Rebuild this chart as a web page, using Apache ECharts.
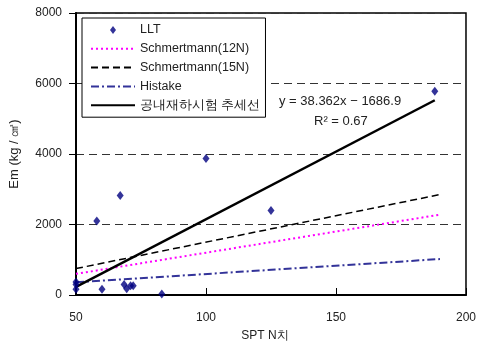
<!DOCTYPE html>
<html><head><meta charset="utf-8">
<script src="https://cdn.jsdelivr.net/npm/echarts@6/dist/echarts.min.js"></script>
<style>html,body{margin:0;padding:0;background:#fff}#c{width:479px;height:347px}</style>
</head><body><div id="c"></div>
<script>
// LLT measurements
var lltN  = [50, 50, 50, 58, 60, 67, 68.5, 69.5, 71, 72, 83, 100, 125, 188];
var lltEm = [370, 300, 160, 2100, 160, 2820, 300, 180, 260, 260, 30, 3870, 2400, 5780];
// reference lines (endpoints)
var schm12N  = [50, 190];
var schm12Em = [600, 2280];
var schm15N  = [50, 190];
var schm15Em = [750, 2850];
var histN    = [50, 190];
var histEm   = [360, 1020];
var trendN   = [50, 188];
var trendEm  = [231, 5525];
var xTicks = [50, 100, 150, 200];
var yTicks = [0, 2000, 4000, 6000, 8000];
var names = ['LLT', 'Schmertmann(12N)', 'Schmertmann(15N)', 'Histake', '공내재하시험 추세선'];

function pairs(a, b) { return a.map(function (v, i) { return [v, b[i]]; }); }
var font = 'Liberation Sans, Arial, sans-serif';
var hide = { color: 'transparent', borderColor: 'transparent', borderWidth: 0 };
var chart = echarts.init(document.getElementById('c'));
chart.setOption({
  animation: false,
  backgroundColor: '#fff',
  grid: { left: 76, right: 13, top: 13, bottom: 49, show: true, borderColor: '#000', borderWidth: 1.5 },
  xAxis: {
    type: 'value', min: xTicks[0], max: xTicks[xTicks.length - 1], interval: 50,
    name: 'SPT N치', nameLocation: 'middle', nameGap: 35,
    nameTextStyle: { fontFamily: font, fontSize: 12, color: '#222', padding: [0, 12, 0, 0] },
    axisLine: { lineStyle: { color: '#000', width: 2 } },
    axisTick: { inside: true, length: 7, lineStyle: { color: '#000' } },
    axisLabel: { fontFamily: font, fontSize: 12, color: '#222', margin: 17 },
    splitLine: { show: false }
  },
  yAxis: {
    type: 'value', min: yTicks[0], max: yTicks[yTicks.length - 1], interval: 2000,
    name: 'Em (kg / ㎠)', nameLocation: 'middle', nameGap: 55,
    nameTextStyle: { fontFamily: font, fontSize: 13, color: '#222' },
    axisLine: { show: true, lineStyle: { color: '#000', width: 2 } },
    axisTick: { show: true, length: 7, lineStyle: { color: '#000' } },
    axisLabel: { fontFamily: font, fontSize: 12, color: '#222', margin: 14,
      formatter: function (v) { return String(v); } },
    splitLine: { show: true, lineStyle: { color: '#333', type: [8, 5], width: 1 } }
  },
  legend: {
    orient: 'vertical', left: 82, top: 18,
    data: [
      { name: names[0], icon: 'path://M0,0M44,0M44,9M0,9M22,0.5L25,4.5L22,8.5L19,4.5Z', itemStyle: { color: '#000080' } },
      { name: names[1], itemStyle: hide },
      { name: names[2], itemStyle: hide },
      { name: names[3], itemStyle: hide },
      { name: names[4], itemStyle: hide }
    ],
    itemWidth: 44, itemHeight: 9, itemGap: 4.8,
    padding: [5, 5, 5, 8],
    borderColor: '#000', borderWidth: 1, backgroundColor: '#fff',
    textStyle: { fontFamily: font, fontSize: 12.5, color: '#222', lineHeight: 14 },
    z: 10
  },
  graphic: [
    { type: 'text', left: 279, top: 95, z: 20,
      style: { text: 'y = 38.362x − 1686.9', fontFamily: font, fontSize: 13, fill: '#222' } },
    { type: 'text', left: 314, top: 115, z: 20,
      style: { text: 'R² = 0.67', fontFamily: font, fontSize: 13, fill: '#222' } }
  ],
  series: [
    { name: names[0], type: 'scatter', data: pairs(lltN, lltEm), symbol: 'diamond', symbolSize: [7, 9],
      itemStyle: { color: '#000080' }, z: 5 },
    { name: names[1], type: 'line', data: pairs(schm12N, schm12Em), symbol: 'none',
      lineStyle: { color: '#ff00ff', width: 2, type: [2, 3] }, itemStyle: { color: '#ff00ff' } },
    { name: names[2], type: 'line', data: pairs(schm15N, schm15Em), symbol: 'none',
      lineStyle: { color: '#000', width: 1.5, type: [7, 4] }, itemStyle: { color: '#000' } },
    { name: names[3], type: 'line', data: pairs(histN, histEm), symbol: 'none',
      lineStyle: { color: '#333399', width: 2, type: [8, 3, 2, 3] }, itemStyle: { color: '#333399' } },
    { name: names[4], type: 'line', data: pairs(trendN, trendEm), symbol: 'none',
      lineStyle: { color: '#000', width: 2.5 }, itemStyle: { color: '#000' } }
  ]
});
</script></body></html>
